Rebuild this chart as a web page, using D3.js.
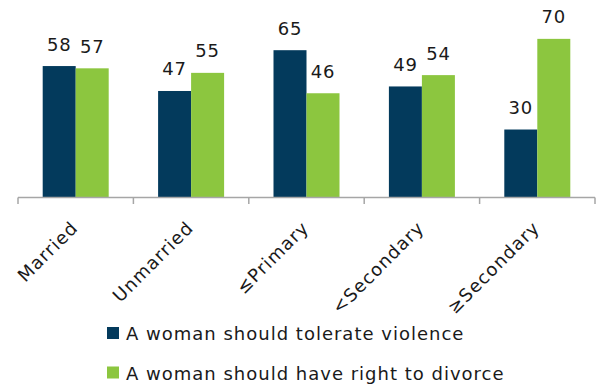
<!DOCTYPE html>
<html>
<head>
<meta charset="utf-8">
<script src="https://cdn.jsdelivr.net/npm/d3@7"></script>
<style>
  html, body { margin: 0; padding: 0; background: #fff; }
  svg { display: block; }
  text { font-family: "DejaVu Sans", sans-serif; fill: #1a1a1a; }
</style>
</head>
<body>
<svg id="chart" width="598" height="385"></svg>
<script>
const categories = ["Married", "Unmarried", "≤Primary", "<Secondary", "≥Secondary"];
const seriesNames = ["A woman should tolerate violence", "A woman should have right to divorce"];
const tolerateViolence = [58, 47, 65, 49, 30];
const rightToDivorce = [57, 55, 46, 54, 70];
const seriesColors = ["#033a5c", "#8cc63f"];

const svg = d3.select("#chart");
const x0 = 18, x1 = 595, yBase = 197.5;

const x = d3.scaleBand().domain(categories).range([x0, x1]).paddingInner(0).paddingOuter(0);
const y = d3.scaleLinear().domain([0, 80]).range([yBase, yBase - 181.3]);
const barW = 33;
const xs = d3.scaleBand().domain([0, 1]).range([0, barW * 2]).padding(0);

const series = [tolerateViolence, rightToDivorce];
const g = svg.append("g");

series.forEach((vals, si) => {
  g.selectAll(".bar" + si)
    .data(categories.map((c, i) => ({ c, v: vals[i] })))
    .enter().append("rect")
    .attr("x", d => x(d.c) + x.bandwidth() / 2 - barW + xs(si))
    .attr("y", d => y(d.v))
    .attr("width", xs.bandwidth())
    .attr("height", d => y(0) - y(d.v))
    .attr("fill", seriesColors[si]);

  g.selectAll(".lab" + si)
    .data(categories.map((c, i) => ({ c, v: vals[i] })))
    .enter().append("text")
    .attr("x", d => x(d.c) + x.bandwidth() / 2 - barW + xs(si) + xs.bandwidth() / 2)
    .attr("y", d => y(d.v) - 15.5)
    .attr("text-anchor", "middle")
    .style("font-size", "18px")
    .style("letter-spacing", "0.8px")
    .text(d => d.v);
});

// axis
const axis = d3.axisBottom(x).tickSize(0).tickFormat("");
const ag = svg.append("g").attr("transform", `translate(0,${yBase})`).call(axis);
ag.select(".domain").attr("stroke", "#a6a6a6").attr("stroke-width", 1.5).attr("d", `M${x0},0H${x1}`);
// tick marks at category boundaries
const bounds = categories.map(c => x(c)).concat([x1]);
ag.selectAll(".bnd").data(bounds).enter().append("line")
  .attr("x1", d => d).attr("x2", d => d)
  .attr("y1", 0).attr("y2", 6.5)
  .attr("stroke", "#a6a6a6").attr("stroke-width", 1.5);

// category labels
svg.append("g").selectAll("text").data(categories).enter().append("text")
  .attr("transform", d => `translate(${x(d) + x.bandwidth() / 2 - 1},224.5) rotate(-45)`)
  .attr("dy", "0.35em")
  .attr("text-anchor", "end")
  .style("font-size", "18px")
  .style("letter-spacing", "1.1px")
  .text(d => d);

// legend
const lg = svg.append("g");
seriesNames.forEach((name, i) => {
  const ly = 333 + i * 39.5;
  lg.append("rect").attr("x", 107).attr("y", ly - 6).attr("width", 12).attr("height", 12).attr("fill", seriesColors[i]);
  lg.append("text").attr("x", 126).attr("y", ly + 7)
    .style("font-size", "18px")
    .style("letter-spacing", "1px")
    .text(name);
});
</script>
</body>
</html>
